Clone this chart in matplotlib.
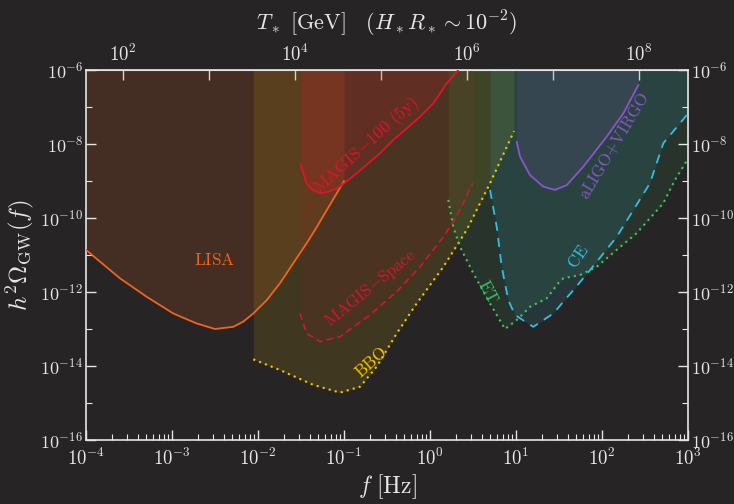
import numpy as np
import matplotlib
matplotlib.use("Agg")
import matplotlib.pyplot as plt
from matplotlib.ticker import FixedLocator, NullFormatter, LogLocator

# Sensitivity curves, log10(f/Hz) and log10(h^2 Omega_GW)
lisa_lf = [-4.0, -3.837, -3.605, -3.294, -2.985, -2.713, -2.5, -2.287, -2.171, -2.055,
           -1.899, -1.744, -1.590, -1.434, -1.337, -1.0]
lisa_lh = [-10.86, -11.18, -11.63, -12.13, -12.58, -12.85, -13.0, -12.94, -12.80, -12.58,
           -12.22, -11.76, -11.22, -10.68, -10.32, -9.0]

magis100_lf = [-1.503, -1.473, -1.434, -1.376, -1.279, -1.183, -1.085, -0.997, -0.852,
               -0.698, -0.581, -0.427, -0.116, 0.038, 0.194, 0.310, 0.36]
magis100_lh = [-8.55, -8.79, -9.06, -9.22, -9.33, -9.29, -9.20, -9.06, -8.79,
               -8.48, -8.25, -7.89, -7.26, -6.90, -6.36, -6.05, -5.9]

magisspace_lf = [-1.512, -1.434, -1.279, -1.047, -0.698, -0.387, -0.116, 0.155, 0.310, 0.497]
magisspace_lh = [-12.58, -13.12, -13.34, -13.21, -12.62, -11.99, -11.32, -10.51, -9.96, -9.06]

bbo_lf = [-2.055, -1.744, -1.357, -1.047, -0.814, -0.620, -0.387, -0.155, 0.155, 0.427, 0.698, 0.977]
bbo_lh = [-13.82, -14.11, -14.51, -14.72, -14.56, -14.02, -13.12, -12.31, -11.32, -10.32, -9.06, -7.65]

et_lf = [0.213, 0.271, 0.349, 0.503, 0.698, 0.872, 1.008, 1.163, 1.357, 1.492, 1.550,
         1.744, 1.938, 2.171, 2.403, 2.713, 2.849, 3.003]
et_lh = [-9.51, -10.24, -10.78, -11.49, -12.31, -13.0, -12.76, -12.40, -12.17, -11.76, -11.63,
         -11.54, -11.32, -10.86, -10.41, -9.60, -8.97, -8.39]

ce_lf = [0.698, 0.776, 0.834, 0.911, 0.988, 1.201, 1.434, 1.666, 1.860, 2.171, 2.558, 2.713, 3.003]
ce_lh = [-9.24, -10.24, -11.32, -12.22, -12.62, -12.94, -12.58, -11.95, -11.41, -10.51, -9.06, -7.98, -7.17]

ligo_lf = [1.008, 1.047, 1.163, 1.317, 1.453, 1.590, 1.783, 2.055, 2.248, 2.422]
ligo_lh = [-7.94, -8.34, -8.84, -9.15, -9.24, -9.11, -8.61, -7.80, -7.17, -6.41]

# f = c * T for H_* R_* ~ 1e-2
f_per_T = 2.69e-6

bg = "#262425"
fg = "#e6e6e6"

plt.rcParams["mathtext.fontset"] = "cm"
plt.rcParams["font.family"] = "serif"
plt.rcParams["font.serif"] = ["cmr10", "DejaVu Serif"]
plt.rcParams["axes.formatter.use_mathtext"] = True
plt.rcParams["axes.unicode_minus"] = False

fig = plt.figure(figsize=(7.34, 5.04), dpi=100, facecolor=bg)
ax = fig.add_axes([0.1172, 0.127, 0.8201, 0.734])
ax.set_facecolor(bg)

curves = [
    (lisa_lf, lisa_lh, "#f0641e", "-", 1.3, 0.15),
    (bbo_lf, bbo_lh, "#f5c800", (0, (1, 2)), 1.5, 0.12),
    (magis100_lf, magis100_lh, "#e01428", "-", 1.3, 0.15),
    (magisspace_lf, magisspace_lh, "#d81430", (0, (4, 2.5)), 1.2, 0.08),
    (et_lf, et_lh, "#3cc864", (0, (1, 2)), 1.5, 0.10),
    (ce_lf, ce_lh, "#35bde0", (0, (5, 4)), 1.3, 0.12),
    (ligo_lf, ligo_lh, "#8a55c8", "-", 1.3, 0.13),
]

for lf, lh, col, ls, lw, a in curves:
    f = 10 ** np.array(lf)
    h = 10 ** np.array(lh)
    ax.fill_between(f, h, 1e-6, color=col, alpha=a, lw=0, zorder=1)
    ax.plot(f, h, color=col, ls=ls, lw=lw, zorder=3)

# Curve labels
ax.text(10 ** -2.5, 10 ** -11.14, r"$\mathrm{LISA}$", color="#f0641e", fontsize=12.5,
        ha="center", va="center")
ax.text(10 ** -0.74, 10 ** -8.05, r"$\mathrm{MAGIS{-}100\ (5y)}$", color="#e01428", fontsize=12.5,
        ha="center", va="center", rotation=42)
ax.text(10 ** -0.686, 10 ** -11.89, r"$\mathrm{MAGIS{-}Space}$", color="#d81430", fontsize=12,
        ha="center", va="center", rotation=39)
ax.text(10 ** -0.686, 10 ** -13.89, r"$\mathrm{BBO}$", color="#f5c800", fontsize=12,
        ha="center", va="center", rotation=42)
ax.text(10 ** 0.674, 10 ** -12.0, r"$\mathrm{ET}$", color="#3cc864", fontsize=12,
        ha="center", va="center", rotation=-62)
ax.text(10 ** 1.721, 10 ** -11.05, r"$\mathrm{CE}$", color="#35bde0", fontsize=12,
        ha="center", va="center", rotation=55)
ax.text(10 ** 2.14, 10 ** -8.05, r"$\mathrm{aLIGO{+}VIRGO}$", color="#8a55c8", fontsize=12,
        ha="center", va="center", rotation=59)

ax.set_xscale("log")
ax.set_yscale("log")
ax.set_xlim(1e-4, 1e3)
ax.set_ylim(1e-16, 1e-6)

ax.xaxis.set_major_locator(LogLocator(base=10, numticks=20))
ax.xaxis.set_minor_locator(LogLocator(base=10, subs=np.arange(2, 10), numticks=20))
ax.xaxis.set_minor_formatter(NullFormatter())

ax.yaxis.set_major_locator(FixedLocator([10.0 ** k for k in range(-16, -5, 2)]))
ax.yaxis.set_minor_locator(FixedLocator([10.0 ** k for k in range(-15, -5, 2)]))
ax.yaxis.set_minor_formatter(NullFormatter())

ax.tick_params(which="both", direction="in", colors=fg, labelsize=13.5,
               left=True, right=True, labelright=True, top=False, bottom=True)
ax.tick_params(which="major", length=7, width=1)
ax.tick_params(which="minor", length=4, width=0.8)
ax.tick_params(axis="x", pad=6)
ax.tick_params(axis="y", pad=2, labelsize=13)

for s in ax.spines.values():
    s.set_color(fg)
    s.set_linewidth(1.2)

ax.set_xlabel(r"$f\ [\mathrm{Hz}]$", color=fg, fontsize=17, labelpad=2)
ax.set_ylabel(r"$h^2\Omega_{\rm GW}(f)$", color=fg, fontsize=18)
ax.yaxis.set_label_coords(-0.083, 0.5)

# Temperature axis on top
top = ax.secondary_xaxis("top", functions=(lambda f: f / f_per_T, lambda T: T * f_per_T))
top.xaxis.set_major_locator(FixedLocator([1e2, 1e4, 1e6, 1e8]))
top.xaxis.set_minor_locator(FixedLocator([1e3, 1e5, 1e7]))
top.xaxis.set_minor_formatter(NullFormatter())
top.tick_params(which="both", direction="in", colors=fg, labelsize=13.5)
top.tick_params(which="major", length=7, width=1)
top.tick_params(which="minor", length=7, width=1)
top.spines["top"].set_color(fg)
top.set_xlabel(r"$T_*\ [\mathrm{GeV}]\quad (H_*R_* \sim 10^{-2})$", color=fg, fontsize=16, labelpad=10)

plt.savefig("out.png", dpi=100, facecolor=bg)
